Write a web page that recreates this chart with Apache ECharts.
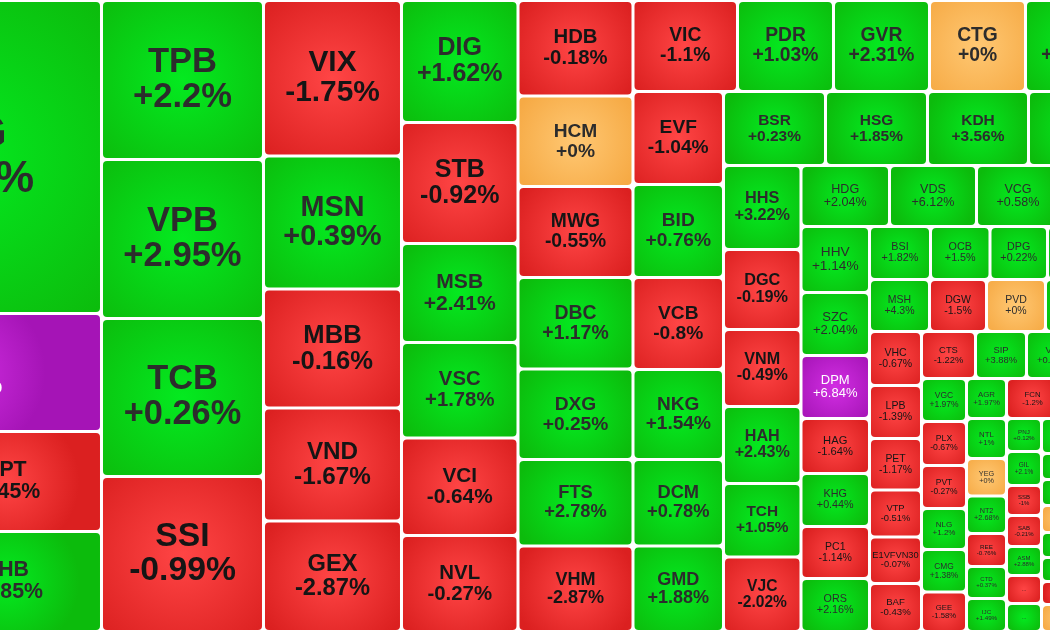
<!DOCTYPE html>
<html>
<head>
<meta charset="utf-8">
<script src="https://cdn.jsdelivr.net/npm/echarts@6/dist/echarts.min.js"></script>
<style>
html, body { margin: 0; padding: 0; background: #fff; }
#chart { width: 1050px; height: 630px; }
</style>
</head>
<body>
<div id="chart"></div>
<script>
// stocks in layout order, strip after strip (left part and right part of the map are cut off)
var tickers = [
  'HPG', 'HQC', 'VRE', 'FPT', 'SHB',
  'TPB', 'VPB', 'TCB', 'SSI',
  'VIX', 'MSN', 'MBB', 'VND', 'GEX',
  'DIG', 'STB', 'MSB', 'VSC', 'VCI', 'NVL',
  'HDB', 'HCM', 'MWG', 'DBC', 'DXG', 'FTS', 'VHM',
  'VIC', 'PDR', 'GVR', 'CTG', 'EIB', 'POW',
  'EVF', 'BID', 'VCB', 'NKG', 'DCM', 'GMD',
  'BSR', 'HSG', 'KDH', 'KBC', 'BCM',
  'HHS', 'DGC', 'VNM', 'HAH', 'TCH', 'VJC',
  'HDG', 'VDS', 'VCG', 'DPR', 'IDI',
  'HHV', 'SZC', 'DPM', 'HAG', 'KHG', 'PC1', 'ORS',
  'BSI', 'OCB', 'DPG', 'CSV', 'HT1', 'ANV',
  'MSH', 'DGW', 'PVD', 'DBD', 'TLG', 'CSM',
  'VHC', 'LPB', 'PET', 'VTP', 'E1VFVN30', 'BAF',
  'CTS', 'SIP', 'VIB', 'BMP', 'HVN', 'PHR',
  'VGC', 'PLX', 'PVT', 'NLG', 'CMG', 'GEE',
  'AGR', 'NTL', 'YEG', 'NT2', 'REE', 'CTD', 'IJC',
  'FCN', 'VPG', 'DHC', 'TDC',
  'PNJ', 'GIL', 'SSB', 'SAB', 'ASM', 'TDH', 'CTI',
  'SCR', 'HSL', 'TV2', 'LCG', 'DRC',
  'CRE', 'HDC', 'SJS', 'SKG', 'ITC', 'VOS', 'DHA',
  'QCG', 'TTA', 'DRH', 'HBC', 'APH', 'HVH', 'SMC', 'TNH', 'NAF'
];

// % change of the day
var changes = [
  1.73, 6.94, -0.6, -0.45, 0.85,
  2.2, 2.95, 0.26, -0.99,
  -1.75, 0.39, -0.16, -1.67, -2.87,
  1.62, -0.92, 2.41, 1.78, -0.64, -0.27,
  -0.18, 0, -0.55, 1.17, 0.25, 2.78, -2.87,
  -1.1, 1.03, 2.31, 0, 0.62, 0.4,
  -1.04, 0.76, -0.8, 1.54, 0.78, 1.88,
  0.23, 1.85, 3.56, 1.1, -0.3,
  3.22, -0.19, -0.49, 2.43, 1.05, -2.02,
  2.04, 6.12, 0.58, 0.9, -0.5,
  1.14, 2.04, 6.84, -1.64, 0.44, -1.14, 2.16,
  1.82, 1.5, 0.22, 2.5, -0.4, 1.2,
  4.3, -1.5, 0, 1.3, 0.6, -0.8,
  -0.67, -1.39, -1.17, -0.51, -0.07, -0.43,
  -1.22, 3.88, 0.17, 0.5, -0.9, 1.4,
  1.97, -0.67, -0.27, 1.2, 1.38, -1.58,
  1.97, 1, 0, 2.68, -0.76, 0.37, 1.49,
  -1.2, 0.8, -0.3, 1.1,
  0.12, 2.1, -1, -0.21, 2.88, -0.5, 0.9,
  1.3, -0.6, 0.9, 1.7, -0.2,
  0.9, 1.2, 0, 0.7, 0.5, -1.1, 0,
  0.3, -0.5, 1.1, -0.8, 0.6, 2.2, -1.3, 0.4, -0.2
];

// traded value (tile size)
var values = [
  89205, 33630, 19000, 19000, 19000,
  25758, 25758, 25596, 25110,
  21459, 18354, 16422, 15594, 15249,
  14213, 14097, 11534, 11126, 11359, 11184,
  10983, 10408, 10465, 10523, 10408, 9948, 9833,
  9510, 8736, 8736, 8736, 8873, 8873,
  8417, 8417, 8326, 8145, 7828, 7738,
  7548, 7548, 7474, 7104, 7104,
  6510, 6200, 5968, 5968, 5696, 5774,
  5399, 5307, 5063, 4911, 4911,
  4521, 4316, 4316, 3768, 3631, 3562, 3631,
  3233, 3154, 3048, 3048, 3074, 3048,
  3120, 2964, 3068, 3042, 3042, 3016,
  2808, 2756, 2678, 2444, 2418, 2496,
  2538, 2397, 2491, 2209, 2209, 2209,
  1935, 1980, 1935, 1845, 1913, 1778,
  1600, 1600, 1500, 1500, 1320, 1280, 1320,
  2080, 2160, 2160, 2160,
  1155, 1190, 1050, 1085, 1015, 980, 980,
  1253, 1253, 1253, 1253, 1253,
  910, 910, 945, 875, 840, 805, 945,
  3200, 3100, 3000, 2900, 2800, 2750, 2700, 2650, 2532
];

// how many consecutive stocks form one strip; a nested list is a strip cut again
var strips = [[1, 1, 1, 2], 4, 5, 6, 7, 6, 6, 5, 6, 5, 7, 6, 6, 6, 6, 6, 7, 4, 7, 5, 7, 9];

function tileColor(c) {
  var s;
  if (c >= 6.7) s = ['#d22ee3', '#a514b6'];
  else if (c > 0) s = ['#04ea20', '#0cbb0c'];
  else if (c < 0) s = ['#ff4545', '#db2020'];
  else s = ['#ffc873', '#f6aa45'];
  return {
    type: 'radial', x: 0.5, y: 0.5, r: 0.75,
    colorStops: [{ offset: 0, color: s[0] }, { offset: 1, color: s[1] }]
  };
}

function textColor(c) {
  if (c >= 6.7) return '#ffffff';
  if (c < 0) return '#151515';
  return '#2c2c2c';
}

var cursor = 0;

function makeLeaf(sides) {
  var i = cursor++;
  var c = changes[i], v = values[i];
  var side = sides && sides[tickers[i]] != null ? sides[tickers[i]] : Math.sqrt(v) - 3;
  var fs = Math.max(6, Math.min(44, 0.225 * side - 0.5));
  return {
    name: tickers[i],
    value: v,
    chg: c,
    itemStyle: { color: tileColor(c) },
    label: {
      fontSize: fs,
      lineHeight: Math.round(fs * 1.02),
      color: textColor(c),
      fontWeight: fs >= 14 ? 'bold' : 'normal'
    }
  };
}

function chain(nodes) {
  if (nodes.length === 1) return nodes[0];
  return { name: '', children: [nodes[0], chain(nodes.slice(1))] };
}

function makeStrip(spec, sides) {
  if (Array.isArray(spec)) {
    return chain(spec.map(function (s) { return makeStrip(s, sides); }));
  }
  var kids = [];
  for (var k = 0; k < spec; k++) kids.push(makeLeaf(sides));
  return kids.length === 1 ? kids[0] : { name: '', children: kids };
}

function makeOption(sides) {
  cursor = 0;
  var tree = chain(strips.map(function (s) { return makeStrip(s, sides); }));
  return {
    backgroundColor: '#ffffff',
    animation: false,
    series: [{
      type: 'treemap',
      left: -182,
      top: 2,
      width: 1401,
      height: 628,
      squareRatio: 1,
      sort: false,
      roam: false,
      nodeClick: false,
      breadcrumb: { show: false },
      itemStyle: { gapWidth: 3, borderWidth: 0, borderColor: '#ffffff', borderRadius: 4 },
      upperLabel: { show: false },
      label: {
        show: true,
        position: 'inside',
        padding: 0,
        overflow: 'truncate',
        fontFamily: '"Liberation Sans", Arial, sans-serif',
        formatter: function (p) {
          var d = p.data;
          if (!d || d.chg === undefined) return '';
          if (p.value < 1000) return '...';
          var c = d.chg;
          return p.name + '\n' + (c >= 0 ? '+' : '') + c + '%';
        }
      },
      data: tree.children
    }]
  };
}

var chart = echarts.init(document.getElementById('chart'));
chart.setOption(makeOption(null));

// second pass: text size follows the short side of each tile
var sides = {};
try {
  var sd = chart.getModel().getSeriesByIndex(0).getData();
  for (var i = 0; i < sd.count(); i++) {
    var lay = sd.getItemLayout(i);
    var nm = sd.getName(i);
    if (lay && nm) sides[nm] = Math.min(lay.width, lay.height);
  }
} catch (e) {}
chart.setOption(makeOption(sides), true);
</script>
</body>
</html>
